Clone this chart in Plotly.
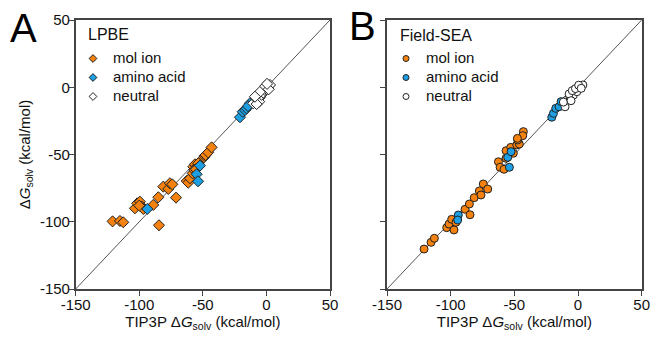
import plotly.graph_objects as go

# ---------------- data ----------------
diag = [-150, 50]
tick_vals = [-150, -100, -50, 0, 50]
tick_text = ["-150", "-100", "-50", "0", "50"]

# Panel A (LPBE)
A_mol_x = [-121, -115.2, -112.6, -103.4, -101.6, -99.5, -97.9, -96.8, -100, -89, -85, -84.5,
           -81.1, -77.2, -75.9, -74, -71.1, -62.7, -61.5, -60.1, -58, -57.5, -56.2, -54.9,
           -53.6, -56.8, -55.5, -49.1, -48.5, -47.8, -45.8, -43.1]
A_mol_y = [-99.7, -99.4, -100.4, -90, -86.3, -85.1, -88.8, -90.5, -88, -87.5, -81.8, -102.6,
           -73.9, -75.6, -71.4, -72.2, -82.1, -69.7, -71, -67.7, -64, -59.1, -57.3, -59.1,
           -56.5, -61.5, -61, -52.1, -51, -50.4, -48.4, -44.7]
A_amino_x = [-93.7, -52.3, -54.9, -53.8, -20.8, -18.7, -16.8, -15.6, -13, -14.5]
A_amino_y = [-90.5, -58.3, -64.7, -69.9, -22.3, -18.2, -17, -15.7, -11.9, -14]
A_neut_x = [-10.4, -7.7, -5.1, -5.7, -3.8, -2.5, -1.2, 0, 1.4, 2.8, -7.7, -5, -9, -1, 1.8, 0.5]
A_neut_y = [-11.9, -9, -7.5, -10.7, -5.6, -4, -2, -1.2, 0.4, 1.7, -12.5, -3.4, -7, 0.8, -1.5, 2.5]

# Panel B (Field-SEA)
B_mol_x = [-120.9, -115.4, -112.8, -103.1, -101.3, -99.2, -97.4, -95.8, -88.7, -85.3, -84.8,
           -81.5, -77.5, -76.2, -74.4, -70.9, -62.5, -61.2, -58.1, -56.5, -56.5, -52.8, -50.8,
           -48.1, -46.1, -47.3, -42.9, -43.4, -47.6]
B_mol_y = [-120.3, -115.3, -112.3, -104.4, -101.7, -98.2, -106.1, -100.4, -90.7, -86.8, -94.8,
           -82.1, -77.1, -80.1, -71.9, -75.7, -55.4, -59.5, -61, -47.2, -52.8, -44.7, -49.1,
           -42.9, -42.2, -39.2, -33, -36, -38]
B_amino_x = [-94, -94.5, -55.2, -52.6, -53.9, -20.6, -19.3, -17.5, -14.9, -13.3]
B_amino_y = [-95, -98.7, -52.1, -47.9, -59.5, -22.3, -19.4, -15.7, -14.5, -10.7]
B_neut_x = [-10.2, -8.8, -6.2, -3.6, -0.9, 1.7, 3.8, -7, -4.5, -2, 0.5, -11.5, -5.5, 2.5]
B_neut_y = [-14.5, -9.5, -7.5, -5.8, -3.3, 0, 1.7, -5, -2.5, -1, 1.5, -11, -10, -0.8]

series_names = ["mol ion", "amino acid", "neutral"]
series_colors = ["#F5820F", "#1CA0E3", "#FFFFFF"]

# ---------------- figure ----------------
FONT = "Liberation Sans, Arial, Helvetica, sans-serif"
fig = go.Figure()

for xa, ya, sym, legname, data in [
    ("x", "y", "diamond", "legend",
     [(A_mol_x, A_mol_y), (A_amino_x, A_amino_y), (A_neut_x, A_neut_y)]),
    ("x2", "y2", "circle", "legend2",
     [(B_mol_x, B_mol_y), (B_amino_x, B_amino_y), (B_neut_x, B_neut_y)]),
]:
    fig.add_trace(go.Scatter(x=diag, y=diag, mode="lines", xaxis=xa, yaxis=ya,
                             line=dict(color="#555555", width=1), showlegend=False,
                             hoverinfo="skip"))
    for (xs, ys), name, col in zip(data, series_names, series_colors):
        fig.add_trace(go.Scatter(
            x=xs, y=ys, mode="markers", xaxis=xa, yaxis=ya, name=name, showlegend=False,
            marker=dict(symbol=sym, size=8.5 if sym == "diamond" else 8, color=col,
                        line=dict(color="#222222", width=1))))
    # legend entries (smaller symbols)
    for name, col in zip(series_names, series_colors):
        fig.add_trace(go.Scatter(
            x=[None], y=[None], mode="markers", xaxis=xa, yaxis=ya,
            name='<span style="font-size:15px">%s</span>' % name,
            legend=legname, showlegend=True,
            marker=dict(symbol=sym, size=6, color=col, line=dict(color="#222222", width=1))))

W, H = 654, 338
ydom = [1 - 289 / H, 1 - 20 / H]
axis_common = dict(range=[-150, 50], tickvals=tick_vals, ticktext=tick_text,
                   showgrid=False, zeroline=False, showline=True, linecolor="#444444",
                   linewidth=1.5, mirror=True, ticks="outside", ticklen=5,
                   tickcolor="#444444", tickwidth=1.2, automargin=False,
                   ticklabelstandoff=-4,
                   tickfont=dict(family=FONT, size=15, color="#111111"))

title_txt = "Δ<i>G</i><sub>solv</sub> (kcal/mol)"
leg_font = dict(family=FONT, size=12.3, color="#111111")
fig.update_layout(
    width=W, height=H, margin=dict(l=0, r=0, t=0, b=0, autoexpand=False),
    paper_bgcolor="white", plot_bgcolor="white",
    font=dict(family=FONT, color="#111111"),
    xaxis=dict(domain=[75.7 / W, 330 / W], anchor="y",
               title=dict(text="TIP3P " + title_txt, font=dict(size=15), standoff=1),
               **axis_common),
    yaxis=dict(domain=ydom, anchor="x",
               title=dict(text=title_txt, font=dict(size=15), standoff=6),
               **axis_common),
    xaxis2=dict(domain=[387 / W, 641.7 / W], anchor="y2",
                title=dict(text="TIP3P " + title_txt, font=dict(size=15), standoff=1),
                **axis_common),
    yaxis2=dict(domain=ydom, anchor="x2", showticklabels=False, **axis_common),
    legend=dict(x=73 / W, y=1 - 44 / H, xanchor="left", yanchor="top",
                bgcolor="rgba(0,0,0,0)", font=leg_font),
    legend2=dict(x=386 / W, y=1 - 44 / H, xanchor="left", yanchor="top",
                 bgcolor="rgba(0,0,0,0)", font=leg_font),
    annotations=[
        dict(text="A", x=8 / W, y=1 - 28 / H, xref="paper", yref="paper",
             xanchor="left", yanchor="middle", showarrow=False,
             font=dict(family=FONT, size=40, color="black")),
        dict(text="B", x=347 / W, y=1 - 26 / H, xref="paper", yref="paper",
             xanchor="left", yanchor="middle", showarrow=False,
             font=dict(family=FONT, size=40, color="black")),
        dict(text="LPBE", x=86 / W, y=1 - 35 / H, xref="paper", yref="paper",
             xanchor="left", yanchor="middle", showarrow=False,
             font=dict(family=FONT, size=16, color="#111111")),
        dict(text="Field-SEA", x=398 / W, y=1 - 36 / H, xref="paper", yref="paper",
             xanchor="left", yanchor="middle", showarrow=False,
             font=dict(family=FONT, size=16, color="#111111")),
    ],
)

fig.write_html("out.html", config={"displayModeBar": False},
               post_script="document.body.style.margin='0';")
